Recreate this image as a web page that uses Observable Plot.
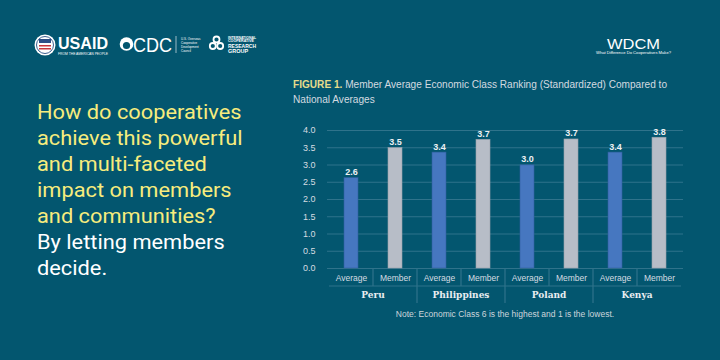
<!DOCTYPE html>
<html>
<head>
<meta charset="utf-8">
<script src="https://cdn.jsdelivr.net/npm/d3@7"></script>
<script src="https://cdn.jsdelivr.net/npm/@observablehq/plot@0.6"></script>
<style>
  html, body { margin: 0; padding: 0; }
  body { width: 720px; height: 360px; background: #03566f; overflow: hidden; position: relative; font-family: "Liberation Sans", Arial, sans-serif; }
  #logos { position: absolute; left: 0; top: 0; }
  #lead { position: absolute; left: 37px; top: 99px; font-family: Roboto, sans-serif; font-size: 20px; line-height: 26px; color: #f7ec7d; white-space: nowrap; transform: scaleX(1.09); transform-origin: 0 0; }
  #lead .w { color: #ffffff; }
  #title { position: absolute; left: 293px; top: 77px; font-size: 10.1px; line-height: 15px; color: #d3dae0; white-space: nowrap; }
  #title b { color: #e6dc8b; }
  #chart { position: absolute; left: 280px; top: 120px; }
  #note { position: absolute; left: 330px; width: 350px; top: 309px; text-align: center; font-size: 8.5px; color: #cdd5dc; white-space: nowrap; }
</style>
</head>
<body>
<svg id="logos" width="720" height="80" font-family="Liberation Sans, Arial, sans-serif">
  <!-- USAID -->
  <circle cx="45" cy="45" r="10.5" fill="#ffffff"/>
  <circle cx="45" cy="45" r="8.5" fill="none" stroke="#3b5f8f" stroke-width="1"/>
  <rect x="39" y="39" width="12" height="4" fill="#2c4f86"/>
  <rect x="39" y="45" width="12" height="1.5" fill="#c8363d"/>
  <rect x="39" y="48" width="12" height="1.5" fill="#c8363d"/>
  <text x="58" y="48.5" fill="#fff" font-size="16" font-weight="bold" textLength="50" lengthAdjust="spacingAndGlyphs">USAID</text>
  <text x="58" y="54.5" fill="#fff" font-size="3.4" textLength="50" lengthAdjust="spacingAndGlyphs">FROM THE AMERICAN PEOPLE</text>
  <!-- CDC -->
  <circle cx="126.5" cy="44" r="6.8" fill="#fff"/>
  <circle cx="126.5" cy="45.5" r="3.6" fill="#03566f"/>
  <text x="133" y="52" fill="#fff" font-size="21" textLength="39" lengthAdjust="spacingAndGlyphs">CDC</text>
  <line x1="176" y1="36" x2="176" y2="53" stroke="#fff" stroke-width="0.6"/>
  <g fill="#fff" font-size="3">
    <text x="181" y="39.5">U.S. Overseas</text>
    <text x="181" y="43.5">Cooperative</text>
    <text x="181" y="47.5">Development</text>
    <text x="181" y="51.5">Council</text>
  </g>
  <!-- ICRG -->
  <g fill="none" stroke="#fff" stroke-width="1.8">
    <circle cx="216.5" cy="39.5" r="3"/>
    <circle cx="212.8" cy="46" r="3"/>
    <circle cx="220.2" cy="46" r="3"/>
  </g>
  <g fill="#fff" font-weight="bold">
    <text x="228" y="38.5" font-size="3" textLength="28" lengthAdjust="spacingAndGlyphs">INTERNATIONAL</text>
    <text x="228" y="42" font-size="3" textLength="26" lengthAdjust="spacingAndGlyphs">COOPERATIVE</text>
    <text x="228" y="47.5" font-size="5.5" textLength="28" lengthAdjust="spacingAndGlyphs">RESEARCH</text>
    <text x="228" y="53" font-size="5.5">GROUP</text>
  </g>
  <!-- WDCM -->
  <text x="607" y="48.5" fill="#fff" font-size="15" textLength="53" lengthAdjust="spacingAndGlyphs">WDCM</text>
  <text x="596" y="54" fill="#fff" font-size="3.6" textLength="75" lengthAdjust="spacingAndGlyphs">What Difference Do Cooperatives Make?</text>
</svg>

<div id="lead">How do cooperatives<br>achieve this powerful<br>and multi-faceted<br>impact on members<br>and communities?<br><span class="w">By letting members<br>decide.</span></div>

<div id="title"><b>FIGURE 1.</b> Member Average Economic Class Ranking (Standardized) Compared to<br>National Averages</div>

<div id="chart"></div>

<div id="note">Note: Economic Class 6 is the highest and 1 is the lowest.</div>

<script>
const countries = ["Peru", "Philippines", "Poland", "Kenya"];
const types = ["Average", "Member"];
const averageValues = [2.62, 3.36, 2.99, 3.36];
const memberValues = [3.49, 3.73, 3.74, 3.79];
const yTicks = [0, 0.5, 1, 1.5, 2, 2.5, 3, 3.5, 4];

const typeColor = {Average: "#4677c0", Member: "#b7bdc7"};
const typeStroke = {Average: "#2f5f9e", Member: "#9aa1ab"};

const data = [];
countries.forEach((c, i) => {
  data.push({country: c, type: "Average", key: c + "|Average", value: averageValues[i]});
  data.push({country: c, type: "Member", key: c + "|Member", value: memberValues[i]});
});
const keys = data.map(d => d.key);

const gridColor = "#2f738b";

const plot = Plot.plot({
  width: 440,
  height: 200,
  marginLeft: 47,
  marginRight: 37,
  marginTop: 10,
  marginBottom: 52,
  style: {background: "transparent", fontFamily: "Liberation Sans, Arial, sans-serif", color: "#d6dce2"},
  x: {domain: keys, paddingInner: 0.685, paddingOuter: 0.3425, label: null},
  y: {domain: [0, 4], label: null},
  marks: [
    Plot.ruleY(yTicks, {stroke: gridColor, strokeWidth: 1.2}),
    Plot.axisY({ticks: yTicks, tickFormat: d => d.toFixed(1), tickSize: 0, tickPadding: 12, fontSize: 9, fill: "#d6dce2", label: null}),
    Plot.axisX({tickFormat: k => k.split("|")[1], tickSize: 0, tickPadding: 6, fontSize: 8.5, fill: "#d6dce2", label: null}),
    Plot.barY(data, {x: "key", y: "value", fill: d => typeColor[d.type], stroke: d => typeStroke[d.type], strokeWidth: 0.6}),
    Plot.text(data, {x: "key", y: "value", text: d => d.value.toFixed(1), lineAnchor: "bottom", dy: -3, fontSize: 9, fontWeight: "bold", fill: "#eef1f4"})
  ]
});

// Category grouping lines and country labels, positioned from the plot's own x scale
const sx = plot.scale("x");
const sy = plot.scale("y");
const step = sx.step;
const half = (sx.step - sx.bandwidth) / 2;
const leftOf = k => sx.apply(k) - half;
const base = sy.apply(0);
const svg = d3.select(plot);
const g = svg.append("g").attr("stroke", gridColor).attr("stroke-width", 1.2);
const x0 = leftOf(keys[0]);
const x1 = leftOf(keys[keys.length - 1]) + step;
g.append("line").attr("x1", x0).attr("x2", x1).attr("y1", base + 18).attr("y2", base + 18);
keys.forEach((k, i) => {
  if (i === 0) return;
  const isCountryEdge = k.endsWith("|Average");
  g.append("line")
    .attr("x1", leftOf(k)).attr("x2", leftOf(k))
    .attr("y1", base).attr("y2", base + (isCountryEdge ? 35 : 18));
});
countries.forEach(c => {
  const cx = leftOf(c + "|Average") + step;
  svg.append("text")
    .attr("x", cx).attr("y", base + 30)
    .attr("text-anchor", "middle")
    .attr("font-family", "DejaVu Serif, serif")
    .attr("font-weight", "bold")
    .attr("font-size", 9)
    .attr("fill", "#e9edf1")
    .text(c);
});

document.getElementById("chart").appendChild(plot);
</script>
</body>
</html>
